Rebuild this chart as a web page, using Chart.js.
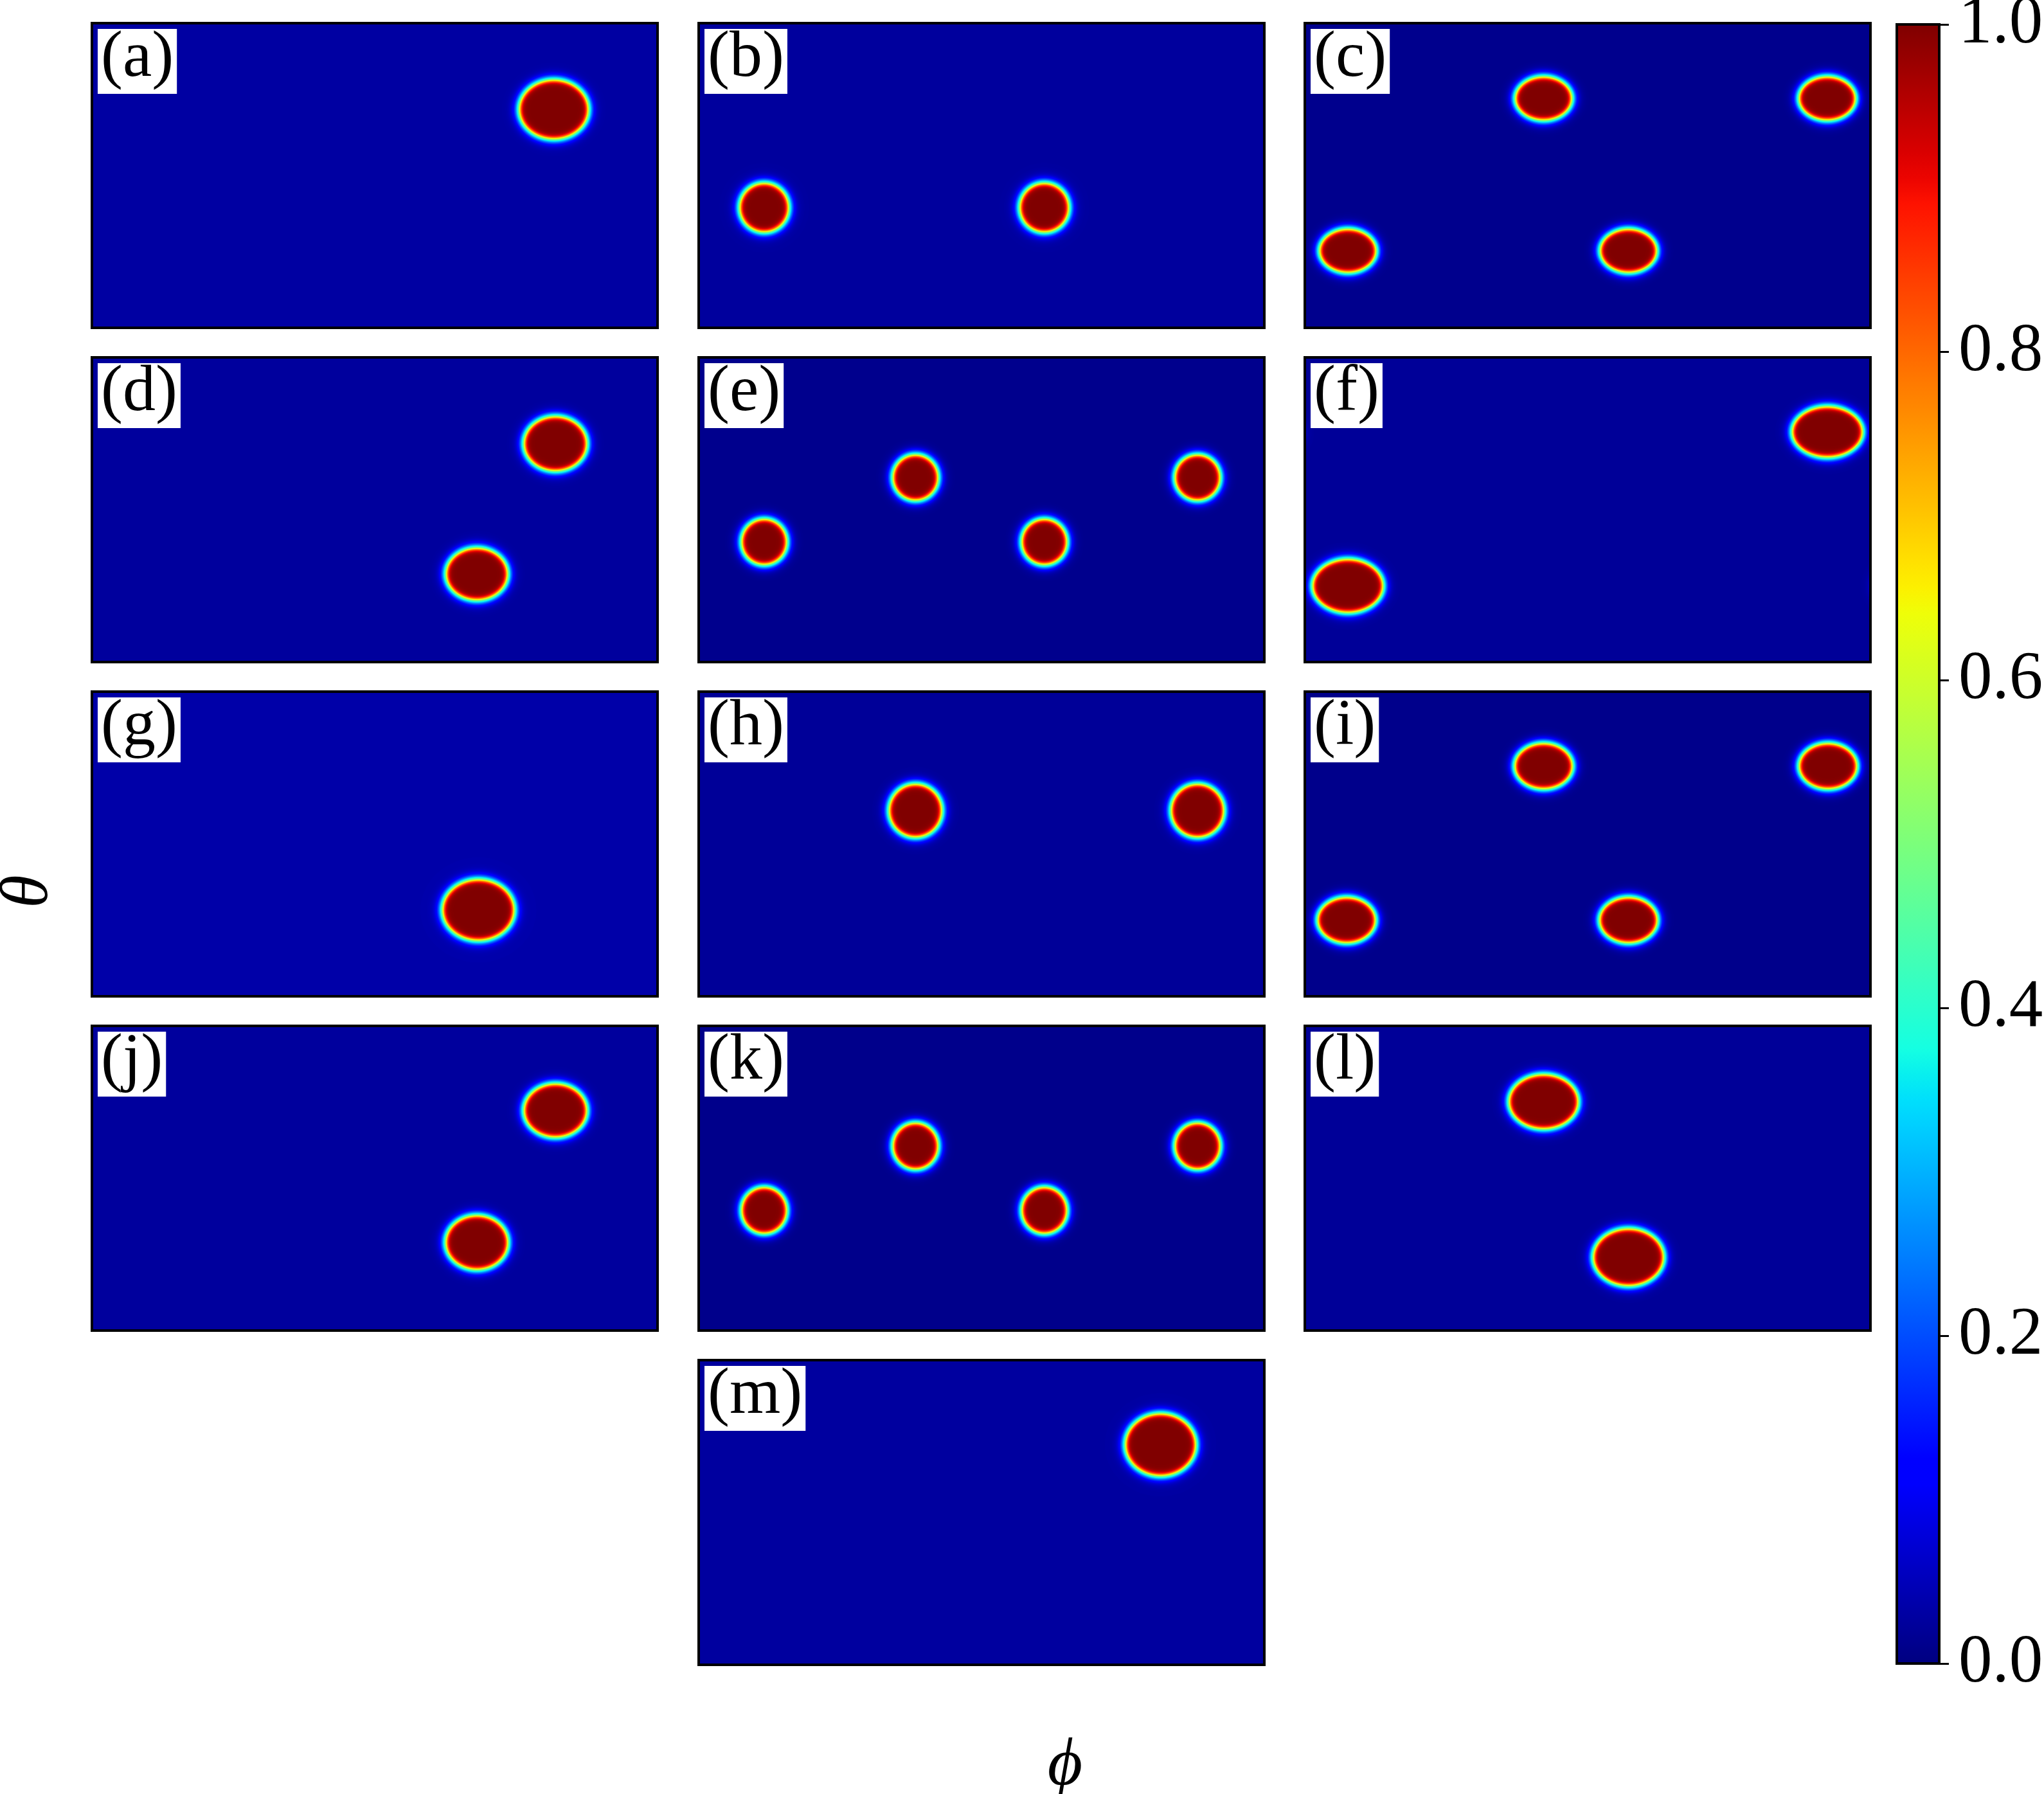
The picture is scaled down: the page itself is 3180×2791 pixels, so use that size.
<!DOCTYPE html>
<html>
<head>
<meta charset="utf-8">
<script src="https://cdn.jsdelivr.net/npm/chart.js@4.4.1/dist/chart.umd.min.js"></script>
<style>
  body { margin: 0; background: #fff; }
  #fig { position: relative; width: 3180px; height: 2791px; overflow: hidden; background: #fff; }
  #fig canvas { position: absolute; }
  .axlabel { position: absolute; font-family: "Liberation Serif", serif; font-style: italic; font-size: 105px; line-height: 1; color: #000; }
</style>
</head>
<body>
<div id="fig">
  <div class="axlabel" id="thetaLabel">&theta;</div>
  <div class="axlabel" id="phiLabel">&#x3D5;</div>
</div>
<script>
// panel data: spot centres (phi, theta in degrees), core half-widths (degrees), background level
const panelLabels = ['(a)', '(b)', '(c)', '(d)', '(e)', '(f)', '(g)', '(h)', '(i)', '(j)', '(k)', '(l)', '(m)'];
const bgLevel = [0.029, 0.026, 0.011, 0.025, 0.011, 0.021, 0.036, 0.021, 0.009, 0.025, 0.009, 0.021, 0.028];
const spotPhi = [
  [294], [41.7, 220], [152, 332.5, 27.4, 206],
  [295, 245], [138, 317.5, 41.7, 220], [332.6, 27.4],
  [246], [138, 317.5], [152, 333, 26.6, 206],
  [295, 245], [138, 317.5, 41.7, 220], [152, 206],
  [294]
];
const spotTheta = [
  [51], [109, 109], [44.5, 44.5, 134.5, 134.5],
  [51, 128], [71, 71, 109, 109], [44, 135],
  [129], [70.3, 70.3], [44, 44, 135, 135],
  [50, 128], [71, 71, 109, 109], [44.8, 136.7],
  [50]
];
const spotRx = [
  [20.0], [13.6, 13.6], [16.0, 16.0, 16.0, 16.0],
  [18.0, 17.6], [12.4, 12.4, 12.4, 12.4], [20.4, 20.4],
  [20.8], [14.8, 14.8], [16.4, 16.4, 16.4, 16.4],
  [18.0, 17.8], [12.4, 12.4, 12.4, 12.4], [20.0, 20.4],
  [20.4]
];
const spotRy = [
  [15.6], [12.6, 12.6], [11.0, 11.0, 11.0, 11.0],
  [14.2, 13.5], [11.6, 11.6, 11.6, 11.6], [13.1, 13.9],
  [16.1], [13.8, 13.8], [11.6, 11.6, 11.6, 11.6],
  [13.9, 14.1], [11.8, 11.8, 11.8, 11.8], [14.2, 15.0],
  [16.5]
];
const cbTicks = [0.0, 0.2, 0.4, 0.6, 0.8, 1.0];

// layout
const PW = 880, PH = 474;
const colX = [143, 1087, 2030];
const rowY = [36, 556, 1076, 1596, 2116];
const panelCell = [[0,0],[0,1],[0,2],[1,0],[1,1],[1,2],[2,0],[2,1],[2,2],[3,0],[3,1],[3,2],[4,1]];
const EDGE_IN = 5, EDGE_OUT = 8; // interface widths, px

// matplotlib jet
function interp(v, pts) {
  for (let i = 1; i < pts.length; i++) {
    if (v <= pts[i][0]) {
      const t = (v - pts[i-1][0]) / (pts[i][0] - pts[i-1][0]);
      return pts[i-1][1] + t * (pts[i][1] - pts[i-1][1]);
    }
  }
  return pts[pts.length-1][1];
}
function jet(v) {
  v = Math.min(1, Math.max(0, v));
  return [
    interp(v, [[0,0],[0.35,0],[0.66,1],[0.89,1],[1,0.5]]),
    interp(v, [[0,0],[0.125,0],[0.375,1],[0.64,1],[0.91,0],[1,0]]),
    interp(v, [[0,0.5],[0.11,1],[0.34,1],[0.65,0],[1,0]])
  ].map(c => Math.round(c * 255));
}
const LUT = [];
for (let i = 0; i < 512; i++) LUT.push(jet(i / 511));
const jetCss = v => 'rgb(' + jet(v).join(',') + ')';

const fieldPlugin = {
  id: 'field',
  beforeDatasetsDraw(chart) {
    const {ctx, chartArea: a, scales: {x, y}} = chart;
    const w = Math.round(a.right - a.left), h = Math.round(a.bottom - a.top);
    const bg = chart.options.plugins.field.bg;
    const spots = chart.data.datasets[0].data.map(p => {
      const cx = x.getPixelForValue(p.x) - a.left;
      const cy = y.getPixelForValue(p.y) - a.top;
      return {
        cx, cy,
        rx: Math.abs(x.getPixelForValue(p.x + p.rx) - x.getPixelForValue(p.x)),
        ry: Math.abs(y.getPixelForValue(p.y + p.ry) - y.getPixelForValue(p.y))
      };
    });
    const img = ctx.createImageData(w, h);
    const d = img.data;
    const shift = 1.1 * EDGE_IN;
    for (let j = 0; j < h; j++) {
      for (let i = 0; i < w; i++) {
        let v = 0;
        for (const s of spots) {
          let dx = i + 0.5 - s.cx;
          if (dx > w / 2) dx -= w; else if (dx < -w / 2) dx += w;
          const dy = j + 0.5 - s.cy;
          const rho = Math.sqrt((dx / s.rx) ** 2 + (dy / s.ry) ** 2);
          const r = Math.sqrt(dx * dx + dy * dy);
          const dist = rho > 0 ? r * (1 - 1 / rho) : -s.rx;
          if (dist > 80) continue;
          const z = dist - shift;
          const val = 0.5 * (1 - Math.tanh(z / (z < 0 ? EDGE_IN : EDGE_OUT)));
          if (val > v) v = val;
        }
        const c = LUT[Math.round((bg + (1 - bg) * v) * 511)];
        const k = (j * w + i) * 4;
        d[k] = c[0]; d[k+1] = c[1]; d[k+2] = c[2]; d[k+3] = 255;
      }
    }
    ctx.putImageData(img, a.left, a.top);
  },
  afterDraw(chart) {
    const {ctx, chartArea: a} = chart;
    const label = chart.options.plugins.field.label;
    ctx.save();
    ctx.strokeStyle = '#000';
    ctx.lineWidth = 4;
    ctx.strokeRect(a.left, a.top, a.right - a.left, a.bottom - a.top);
    ctx.font = '102px "Liberation Serif", serif';
    const tw = ctx.measureText(label).width;
    ctx.fillStyle = '#fff';
    ctx.fillRect(a.left + 9, a.top + 9, tw + 10, 101);
    ctx.fillStyle = '#000';
    ctx.textBaseline = 'alphabetic';
    ctx.fillText(label, a.left + 14, a.top + 82);
    ctx.restore();
  }
};

const fig = document.getElementById('fig');

panelLabels.forEach((label, n) => {
  const [r, c] = panelCell[n];
  const cv = document.createElement('canvas');
  cv.width = PW + 4; cv.height = PH + 4;
  cv.style.left = (colX[c] - 2) + 'px';
  cv.style.top = (rowY[r] - 2) + 'px';
  fig.appendChild(cv);
  const pts = spotPhi[n].map((p, k) => ({x: p, y: spotTheta[n][k], rx: spotRx[n][k], ry: spotRy[n][k]}));
  new Chart(cv, {
    type: 'scatter',
    data: { datasets: [{ data: pts, pointRadius: 0 }] },
    options: {
      responsive: false,
      animation: false,
      events: [],
      layout: { padding: 2 },
      plugins: {
        legend: { display: false },
        tooltip: { enabled: false },
        field: { bg: bgLevel[n], label: label }
      },
      scales: {
        x: { display: false, min: 0, max: 360 },
        y: { display: false, min: 0, max: 180, reverse: true }
      }
    },
    plugins: [fieldPlugin]
  });
});

// colorbar
const cbPlugin = {
  id: 'cbar',
  beforeDraw(chart) {
    const {ctx, chartArea: a} = chart;
    const g = ctx.createLinearGradient(0, a.bottom, 0, a.top);
    for (let i = 0; i <= 64; i++) g.addColorStop(i / 64, jetCss(i / 64));
    ctx.save();
    ctx.fillStyle = g;
    ctx.fillRect(a.left, a.top, a.right - a.left, a.bottom - a.top);
    ctx.restore();
  },
  afterDraw(chart) {
    const {ctx, chartArea: a} = chart;
    ctx.save();
    ctx.strokeStyle = '#000';
    ctx.lineWidth = 4;
    ctx.strokeRect(a.left, a.top, a.right - a.left, a.bottom - a.top);
    ctx.restore();
  }
};
const cb = document.createElement('canvas');
cb.width = 240; cb.height = 2720;
cb.style.left = '2940px';
cb.style.top = '-40px';
fig.appendChild(cb);
new Chart(cb, {
  type: 'scatter',
  data: { datasets: [] },
  options: {
    responsive: false,
    animation: false,
    events: [],
    layout: { padding: { left: 11, top: 77, bottom: 92, right: 0 } },
    plugins: { legend: { display: false }, tooltip: { enabled: false } },
    scales: {
      x: { display: false, min: 0, max: 1 },
      y: {
        position: 'right',
        min: 0, max: 1,
        afterBuildTicks: s => { s.ticks = cbTicks.map(v => ({ value: v })); },
        afterFit: s => { s.width = 163; },
        border: { display: false },
        grid: { drawOnChartArea: false, drawTicks: true, tickLength: 15, tickWidth: 3, tickColor: '#000' },
        ticks: {
          padding: 15,
          color: '#000',
          font: { family: '"Liberation Serif", serif', size: 105 },
          callback: v => Number(v).toFixed(1)
        }
      }
    }
  },
  plugins: [cbPlugin]
});

// axis labels
const th = document.getElementById('thetaLabel');
th.style.left = '37px'; th.style.top = '1387px';
th.style.transform = 'translate(-50%, -50%) rotate(-90deg)';
const ph = document.getElementById('phiLabel');
ph.style.left = '1657px'; ph.style.top = '2740px';
ph.style.transform = 'translate(-50%, -50%)';
</script>
</body>
</html>
